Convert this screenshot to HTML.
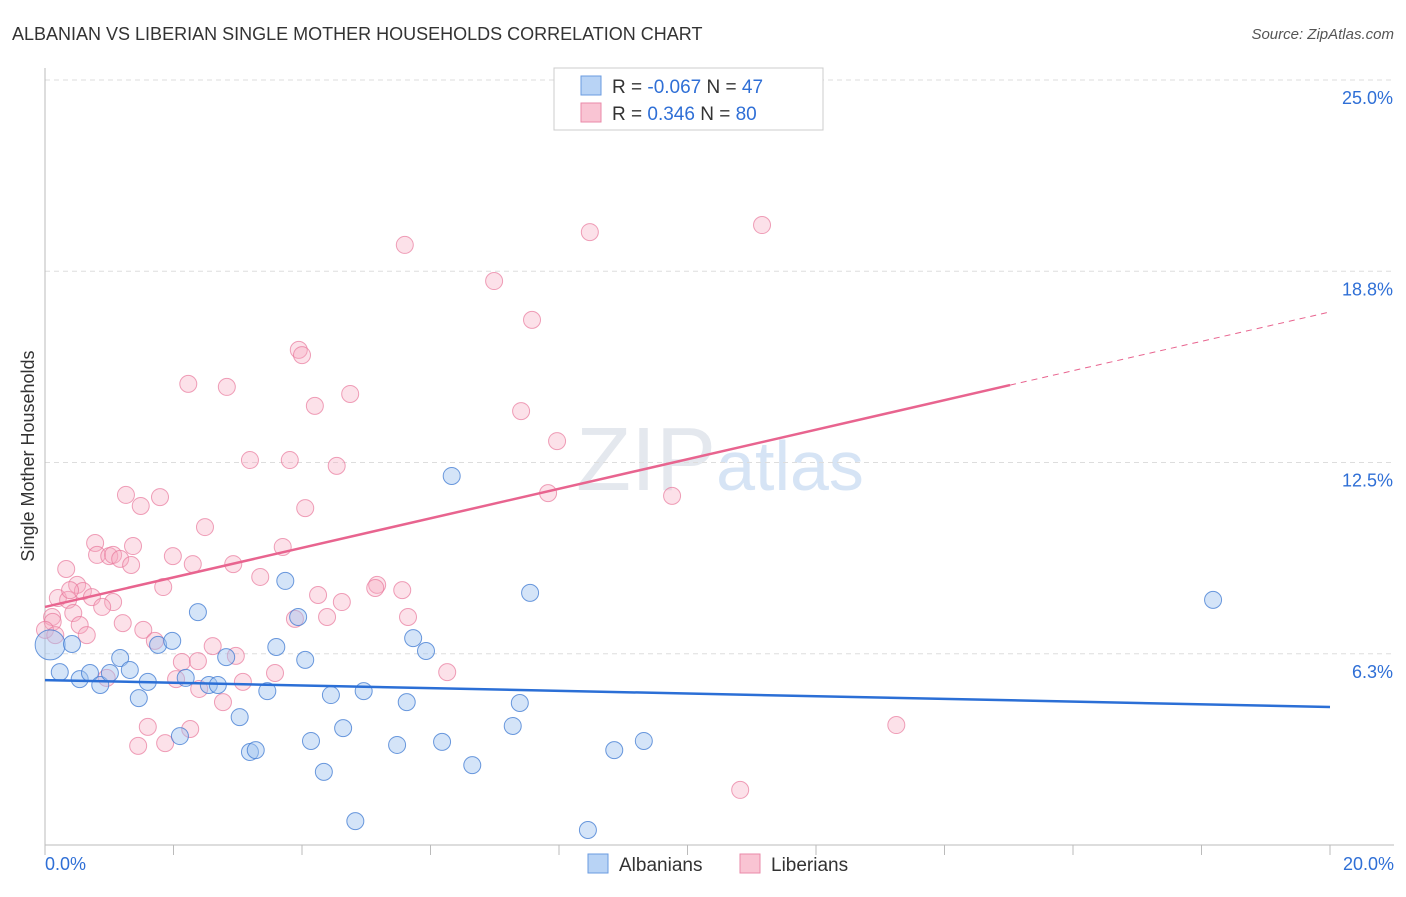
<!DOCTYPE html>
<html><head><meta charset="utf-8"><style>
body{margin:0;background:#fff;font-family:"Liberation Sans",sans-serif;}
svg text{font-family:"Liberation Sans",sans-serif;}
</style></head><body>
<svg id="chart" width="1406" height="892" viewBox="0 0 1406 892" xmlns="http://www.w3.org/2000/svg">
<text x="12" y="40" font-size="18" fill="#333">ALBANIAN VS LIBERIAN SINGLE MOTHER HOUSEHOLDS CORRELATION CHART</text>
<text x="1394" y="39" font-size="15" fill="#555" text-anchor="end" font-style="italic">Source: ZipAtlas.com</text>
<text x="720" y="490" font-size="90" fill="#e4e8ee" text-anchor="middle" font-family="Liberation Serif">ZIP<tspan fill="#d6e4f5" font-family="Liberation Sans" font-size="70">atlas</tspan></text>
<g id="grid"></g>
<g id="axes"></g>
<g id="pts"></g>
<g id="trend"></g>
<text transform="translate(34,456) rotate(-90)" font-size="18" fill="#333" text-anchor="middle">Single Mother Households</text>
<g>
<rect x="554" y="68" width="269" height="62" fill="#fff" stroke="#ccc"/>
<rect x="581" y="76" width="20" height="19" fill="#b8d3f5" stroke="#6a9be0"/>
<rect x="581" y="103" width="20" height="19" fill="#f9c4d3" stroke="#ea8aa8"/>
<text x="612" y="93" font-size="19" fill="#333">R = <tspan fill="#2f6fd6">-0.067</tspan>   N = <tspan fill="#2f6fd6">47</tspan></text>
<text x="612" y="120" font-size="19" fill="#333">R =  <tspan fill="#2f6fd6"> 0.346</tspan>   N = <tspan fill="#2f6fd6">80</tspan></text>
</g>
<g>
<rect x="588" y="854" width="20" height="19" fill="#b8d3f5" stroke="#6a9be0"/>
<text x="619" y="871" font-size="19" fill="#333">Albanians</text>
<rect x="740" y="854" width="20" height="19" fill="#f9c4d3" stroke="#ea8aa8"/>
<text x="771" y="871" font-size="19" fill="#333">Liberians</text>
</g>
</svg>
<script>
const yTicks=[6.25,12.5,18.75,25];
const yTickLabels=["6.3%","12.5%","18.8%","25.0%"];
const xTickLabels=["0.0%","20.0%"];
const albX=[0.08,0.42,0.23,0.54,0.70,0.86,1.01,1.17,1.32,1.46,1.60,1.76,1.98,2.10,2.19,2.38,2.55,2.69,2.82,3.03,3.19,3.28,3.46,3.60,3.74,3.94,4.05,4.14,4.34,4.45,4.64,4.83,4.96,5.48,5.63,5.73,5.93,6.18,6.33,6.65,7.28,7.39,7.55,8.45,8.86,9.32,18.18];
const albY=[6.54,6.57,5.65,5.42,5.62,5.23,5.62,6.11,5.72,4.80,5.33,6.54,6.67,3.56,5.46,7.61,5.23,5.23,6.14,4.18,3.04,3.10,5.03,6.47,8.63,7.45,6.05,3.40,2.39,4.90,3.82,0.78,5.03,3.27,4.67,6.76,6.34,3.37,12.06,2.61,3.89,4.64,8.24,0.49,3.10,3.40,8.01];
const libX=[1.26,1.49,1.79,2.49,4.05,4.54,0.78,0.81,1.00,1.06,1.17,1.37,1.34,1.99,2.30,2.93,3.70,0.33,3.35,0.50,0.59,0.20,0.36,0.73,1.84,1.06,0.89,0.44,0.11,0.12,0.54,0.65,1.21,1.53,1.71,4.25,4.62,5.17,5.14,5.56,3.89,4.39,5.65,2.61,2.97,2.13,2.38,3.58,6.26,2.04,0.96,2.40,3.08,2.77,1.60,2.26,1.45,1.87,5.60,8.48,11.16,6.99,7.58,3.95,4.00,2.23,2.83,4.75,4.20,7.41,7.97,3.19,3.81,7.83,9.76,13.25,10.82,0,0.16,0.39];
const libY=[11.44,11.08,11.37,10.39,11.01,12.39,9.87,9.48,9.44,9.48,9.35,9.77,9.15,9.44,9.18,9.18,9.74,9.02,8.76,8.50,8.30,8.07,8.01,8.10,8.43,7.94,7.78,7.58,7.45,7.29,7.19,6.86,7.25,7.03,6.67,8.17,7.94,8.50,8.40,8.33,7.39,7.45,7.45,6.50,6.18,5.98,6.01,5.62,5.65,5.42,5.46,5.10,5.33,4.67,3.86,3.79,3.24,3.33,19.61,20.03,20.26,18.43,17.16,16.18,16.01,15.07,14.97,14.74,14.35,14.18,13.20,12.58,12.58,11.50,11.41,3.92,1.80,7.03,6.86,8.33];
const albTrend=[5.39,4.51];
const libTrend=[7.78,15.03,17.42];
const libTrendX=[0,15.02,20];
const X0=45,X1=1330,Y0=845,Y1=80;
const sx=v=>X0+(v/20)*(X1-X0);
const sy=v=>Y0-(v/25)*(Y0-Y1);
const NS="http://www.w3.org/2000/svg";
function mk(t,a,p){const e=document.createElementNS(NS,t);for(const k in a)e.setAttribute(k,a[k]);p.appendChild(e);return e;}
const grid=document.getElementById('grid'),axes=document.getElementById('axes'),pts=document.getElementById('pts'),trend=document.getElementById('trend');
yTicks.forEach((t,i)=>{
 const l=mk('line',{x1:X0,x2:1394,y1:sy(t),y2:sy(t),stroke:'#ddd','stroke-dasharray':'5,4'},grid);
 
 
 const tx=mk('text',{x:1393,y:sy(t)+24,'font-size':18,fill:'#2f6fd6','text-anchor':'end'},grid);
 tx.textContent=yTickLabels[i];
 
 
});
const ax=mk('line',{x1:X0,x2:X0,y1:68,y2:Y0,stroke:'#bbb'},axes);


const bx=mk('line',{x1:X0,x2:1394,y1:Y0,y2:Y0,stroke:'#bbb'},axes);


for(let i=0;i<=10;i++){
 const tk=mk('line',{x1:sx(i*2),x2:sx(i*2),y1:Y0,y2:Y0+10,stroke:'#bbb'},axes);
 
 
}
[[0,'start',45],[20,'end',1394]].forEach((d,i)=>{
 const t=mk('text',{x:d[2],y:870,'font-size':18,fill:'#2f6fd6','text-anchor':d[1]},axes);
 t.textContent=xTickLabels[i];
 
 
});
libX.forEach((x,i)=>{
 const c=mk('circle',{cx:sx(x),cy:sy(libY[i]),r:8.5,fill:'rgba(246,170,193,0.35)',stroke:'rgba(232,120,155,0.7)','stroke-width':1},pts);
 
 
});
albX.forEach((x,i)=>{
 const c=mk('circle',{cx:sx(x),cy:sy(albY[i]),r:i==0?15:8.5,fill:'rgba(160,196,240,0.45)',stroke:'rgba(60,120,210,0.75)','stroke-width':1},pts);
 
 
});
const bl=mk('line',{x1:sx(0),y1:sy(albTrend[0]),x2:sx(20),y2:sy(albTrend[1]),stroke:'#2b6fd6','stroke-width':2.5},trend);


const pl=mk('line',{x1:sx(libTrendX[0]),y1:sy(libTrend[0]),x2:sx(libTrendX[1]),y2:sy(libTrend[1]),stroke:'#e8648f','stroke-width':2.5},trend);


const pd=mk('line',{x1:sx(libTrendX[1]),y1:sy(libTrend[1]),x2:sx(libTrendX[2]),y2:sy(libTrend[2]),stroke:'#e8648f','stroke-width':1,'stroke-dasharray':'6,5'},trend);


</script>
</body></html>
